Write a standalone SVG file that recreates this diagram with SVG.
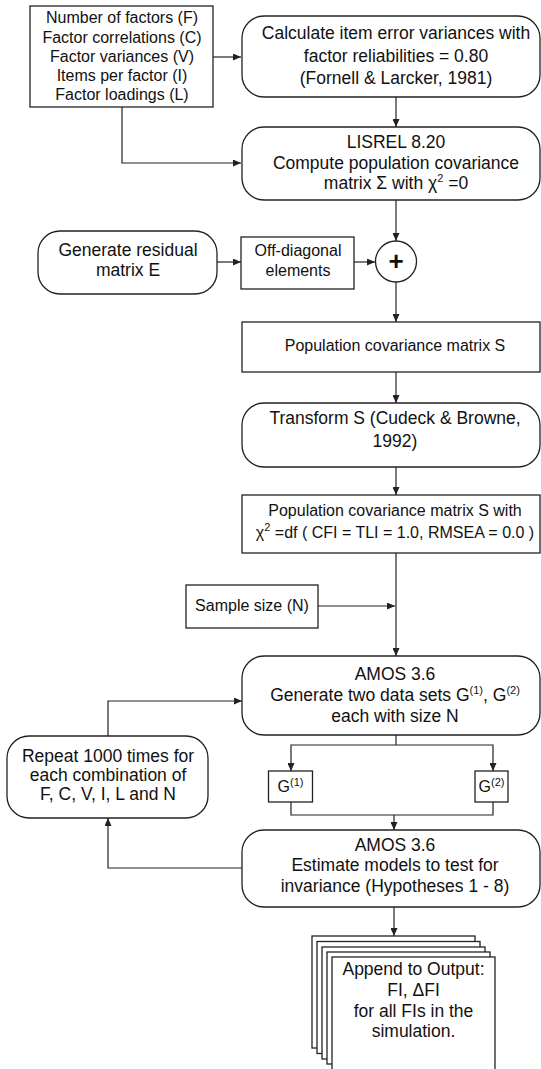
<svg xmlns="http://www.w3.org/2000/svg" width="541" height="1069" viewBox="0 0 541 1069">
<defs>
<style>
.b{fill:#fff;stroke:#222;stroke-width:1.3}
.t{font-family:"Liberation Sans",Arial,sans-serif;fill:#111;text-anchor:middle}
.l{font-size:17.5px}
.m{font-size:16px}
.c{fill:none;stroke:#222;stroke-width:1.2}
.s{font-size:11px}
</style>
<marker id="a" markerWidth="8" markerHeight="7" refX="8" refY="3.5" orient="auto" markerUnits="userSpaceOnUse">
<path d="M0,0 L8,3.5 L0,7 z" fill="#222"/>
</marker>
</defs>
<rect width="541" height="1069" fill="#fff"/>

<g id="connectors">
<path class="c" d="M213,57 H241" marker-end="url(#a)"/>
<path class="c" d="M122,107 V163 H241" marker-end="url(#a)"/>
<path class="c" d="M396,97 V127" marker-end="url(#a)"/>
<path class="c" d="M396,200 V241" marker-end="url(#a)"/>
<path class="c" d="M217,262 H241" marker-end="url(#a)"/>
<path class="c" d="M354,262 H375" marker-end="url(#a)"/>
<path class="c" d="M396,282 V322" marker-end="url(#a)"/>
<path class="c" d="M396,372 V403" marker-end="url(#a)"/>
<path class="c" d="M396,467 V495" marker-end="url(#a)"/>
<path class="c" d="M396,553 V656" marker-end="url(#a)"/>
<path class="c" d="M318,606 H395" marker-end="url(#a)"/>
<path class="c" d="M396,735 V745"/>
<path class="c" d="M396,745 H291 V771" marker-end="url(#a)"/>
<path class="c" d="M396,745 H493 V771" marker-end="url(#a)"/>
<path class="c" d="M291,802 V815 H493 V802"/>
<path class="c" d="M394,815 V830" marker-end="url(#a)"/>
<path class="c" d="M394,907 V936" marker-end="url(#a)"/>
<path class="c" d="M242,868 H108 V818" marker-end="url(#a)"/>
<path class="c" d="M108,736 V701 H242" marker-end="url(#a)"/>
</g>

<g id="inputs">
<rect class="b" x="30" y="6" width="183" height="101"/>
<text class="t m" x="122" y="23">Number of factors (F)</text>
<text class="t m" x="122" y="42.5">Factor correlations (C)</text>
<text class="t m" x="122" y="62">Factor variances (V)</text>
<text class="t m" x="122" y="81">Items per factor (I)</text>
<text class="t m" x="122" y="100">Factor loadings (L)</text>
</g>

<g id="error-variances">
<rect class="b" x="242" y="16" width="298" height="81" rx="22" ry="22"/>
<text class="t l" x="396" y="39">Calculate item error variances with</text>
<text class="t l" x="396" y="61.5">factor reliabilities = 0.80</text>
<text class="t l" x="396" y="84">(Fornell &amp; Larcker, 1981)</text>
</g>

<g id="lisrel">
<rect class="b" x="242" y="127" width="298" height="73" rx="22" ry="22"/>
<text class="t l" x="396" y="148">LISREL 8.20</text>
<text class="t l" x="396" y="168.5">Compute population covariance</text>
<text class="t l" x="396" y="189">matrix  Σ with χ<tspan class="s" dy="-7">2</tspan><tspan dy="7"> =0</tspan></text>
</g>

<g id="residual">
<rect class="b" x="38" y="231" width="179" height="63" rx="22" ry="22"/>
<text class="t l" x="128" y="256">Generate residual</text>
<text class="t l" x="128" y="276">matrix E</text>
</g>

<g id="offdiag">
<rect class="b" x="241" y="237" width="113" height="52"/>
<text class="t m" x="298" y="256">Off-diagonal</text>
<text class="t m" x="298" y="276">elements</text>
</g>

<g id="sum">
<circle class="b" cx="396" cy="261.5" r="20.5"/>
<text class="t" x="396" y="270" style="font-size:26px;font-weight:bold">+</text>
</g>

<g id="pop-s">
<rect class="b" x="242" y="322" width="298" height="50"/>
<text class="t m" x="395" y="351">Population covariance matrix S</text>
</g>

<g id="transform">
<rect class="b" x="242" y="403" width="298" height="64" rx="22" ry="22"/>
<text class="t l" x="395" y="424">Transform S (Cudeck &amp; Browne,</text>
<text class="t l" x="395" y="447">1992)</text>
</g>

<g id="pop-s-df">
<rect class="b" x="242" y="495" width="298" height="58"/>
<text class="t m" x="395" y="516">Population covariance matrix S with</text>
<text class="t m" x="395" y="538">χ<tspan class="s" dy="-7">2</tspan><tspan dy="7"> =df ( CFI = TLI = 1.0, RMSEA = 0.0 )</tspan></text>
</g>

<g id="sample-size">
<rect class="b" x="186" y="585" width="132" height="43"/>
<text class="t m" x="252" y="611">Sample size (N)</text>
</g>

<g id="amos-generate">
<rect class="b" x="242" y="656" width="298" height="79" rx="22" ry="22"/>
<text class="t l" x="395" y="680">AMOS 3.6</text>
<text class="t l" x="395" y="701">Generate two data sets G<tspan class="s" dy="-7">(1)</tspan><tspan dy="7">, G</tspan><tspan class="s" dy="-7">(2)</tspan></text>
<text class="t l" x="395" y="722">each with size N</text>
</g>

<g id="g1">
<rect class="b" x="268.5" y="771" width="44" height="31"/>
<text class="t m" x="290.5" y="792">G<tspan class="s" dy="-6">(1)</tspan></text>
</g>

<g id="g2">
<rect class="b" x="475" y="771" width="33" height="31"/>
<text class="t m" x="491.5" y="792">G<tspan class="s" dy="-6">(2)</tspan></text>
</g>

<g id="repeat">
<rect class="b" x="7" y="736" width="201" height="82" rx="22" ry="22"/>
<text class="t l" x="108" y="762">Repeat 1000 times for</text>
<text class="t l" x="108" y="781">each combination of</text>
<text class="t l" x="108" y="800">F, C, V, I, L and N</text>
</g>

<g id="amos-estimate">
<rect class="b" x="242" y="830" width="298" height="77" rx="22" ry="22"/>
<text class="t l" x="395" y="851">AMOS 3.6</text>
<text class="t l" x="395" y="871">Estimate models to test for</text>
<text class="t l" x="395" y="892">invariance (Hypotheses 1 - 8)</text>
</g>

<g id="output">
<rect class="b" x="312" y="936" width="163" height="112"/>
<rect class="b" x="317" y="941.5" width="163" height="112"/>
<rect class="b" x="322" y="947" width="163" height="112"/>
<rect class="b" x="327" y="952" width="163" height="112"/>
<rect class="b" x="332" y="957" width="163" height="114"/>
<text class="t l" x="413.5" y="975">Append to Output:</text>
<text class="t l" x="413.5" y="996">FI, ΔFI</text>
<text class="t l" x="413.5" y="1017">for all FIs in the</text>
<text class="t l" x="413.5" y="1037">simulation.</text>
</g>
</svg>
